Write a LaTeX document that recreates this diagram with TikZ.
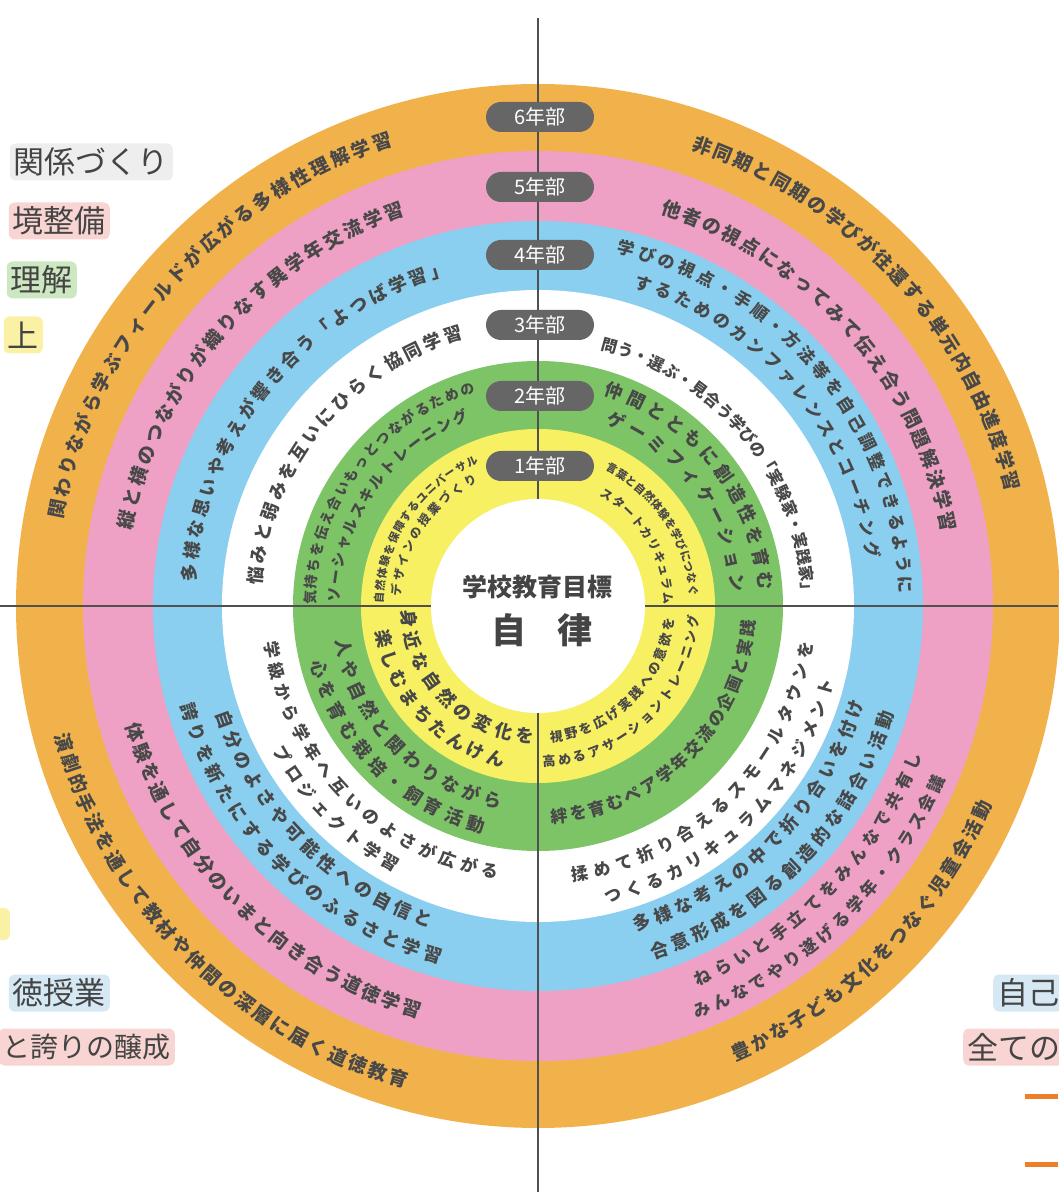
\documentclass[tikz,border=0pt]{standalone}
\usepackage{fontspec}
\newfontfamily\cjk{Noto Sans CJK JP}
\usetikzlibrary{decorations.text}

\definecolor{ringorange}{RGB}{241,178,75}
\definecolor{ringpink}{RGB}{238,161,197}
\definecolor{ringblue}{RGB}{138,206,240}
\definecolor{ringgreen}{RGB}{125,196,103}
\definecolor{ringyellow}{RGB}{247,240,98}
\definecolor{pillgray}{RGB}{102,102,102}
\definecolor{axisgray}{RGB}{80,80,80}
\definecolor{textgray}{RGB}{72,72,72}
\definecolor{labelgray}{RGB}{68,68,68}
\definecolor{boxgray}{RGB}{238,238,238}
\definecolor{boxpink}{RGB}{248,213,211}
\definecolor{boxgreen}{RGB}{205,232,192}
\definecolor{boxyellow}{RGB}{250,241,165}
\definecolor{boxblue}{RGB}{213,232,244}
\definecolor{barorange}{RGB}{236,128,40}

\tikzset{
  pill/.style={fill=pillgray, text=white, rounded corners=15pt, minimum width=108pt,
    minimum height=30pt, inner sep=0pt, font=\cjk\fontsize{20}{20}\selectfont},
  sidelabel/.style={text=labelgray, rounded corners=6pt, inner xsep=4pt, minimum height=37pt,
    font=\cjk\fontsize{31}{31}\selectfont},
  axis/.style={draw=axisgray, line width=1.6pt}
}

% text set along a ring: radius, start angle, end angle, size, text
\newcommand\ringtext[5]{%
  \pgfmathsetmacro\rtraise{-0.37*#4}%
  \path[decorate, decoration={text along path, text align=fit to path,
      raise=\rtraise pt, text color=textgray,
      text={|\cjk\bfseries\fontsize{#4}{#4}\selectfont|#5}}]
    (#2:#1) arc[start angle=#2, end angle=#3, radius=#1];}

\begin{document}
\begin{tikzpicture}[x=1pt, y=1pt]
	\useasboundingbox (-538,-590) rectangle (520,606);

	% rings
	\fill[ringorange] (0,0) circle[radius=522];
	\fill[ringpink] (0,0) circle[radius=455];
	\fill[ringblue] (0,0) circle[radius=385];
	\fill[white] (0,0) circle[radius=316];
	\fill[ringgreen] (0,0) circle[radius=245];
	\fill[ringyellow] (0,0) circle[radius=177];

	% axes
	\coordinate (top) at (0,588);
	\coordinate (bottom) at (0,-586);
	\coordinate (left) at (-538,0);
	\coordinate (right) at (520,0);
	\draw[axis] (top) -- (bottom);
	\draw[axis] (left) -- (right);
	\fill[white] (0,0) circle[radius=107];

	% grade labels
	\node (g6)[pill] at (2,489) {6年部};
	\node (g5)[pill] at (2,419) {5年部};
	\node (g4)[pill] at (2,351) {4年部};
	\node (g3)[pill] at (2,281) {3年部};
	\node (g2)[pill] at (2,210) {2年部};
	\node (g1)[pill] at (2,140) {1年部};

	% centre
	\node (goal)[font=\cjk\bfseries\fontsize{25}{25}\selectfont, text=labelgray] at (0,19) {学校教育目標};
	\node (jiritsu)[font=\cjk\bfseries\fontsize{35}{35}\selectfont, text=labelgray] at (4,-24) {自\hspace{0.9em}律};

	% 6th grade
	\ringtext{490}{169.7}{107.5}{19}{関わりながら学ぶフィールドが広がる多様性理解学習}
	\ringtext{489}{71.4}{13.7}{19}{非同期と同期の学びが往還する単元内自由進度学習}
	\ringtext{493}{195.0}{254.6}{19}{演劇的手法を通して教材や仲間の深層に届く道徳教育}
	\ringtext{489}{293.4}{336.4}{19}{豊かな子ども文化をつなぐ児童会活動}

	% 5th grade
	\ringtext{420}{169.4}{108.8}{19}{縦と横のつながりが織りなす異学年交流学習}
	\ringtext{418}{72.7}{10.4}{19}{他者の視点になってみて伝え合う問題解決学習}
	\ringtext{422}{196.2}{253.8}{19}{体験を通して自分のいまと向き合う道徳学習}
	\ringtext{406}{292.8}{338.7}{17}{ねらいと手立てをみんなで共有し}
	\ringtext{436}{291.0}{337.0}{17}{みんなでやり遂げる学年・クラス会議}

	% 4th grade
	\ringtext{350}{176.0}{105.0}{18}{多様な思いや考えが響き合う「よつば学習」}
	\ringtext{368}{77.4}{2.0}{17}{学びの視点・手順・方法等を自己調整できるように}
	\ringtext{339}{73.3}{8.2}{17}{するためのカンファレンスとコーチング}
	\ringtext{333}{198.4}{251.4}{18}{自分のよさや可能性への自信と}
	\ringtext{364}{195.5}{254.6}{18}{誇りを新たにする学びのふるさと学習}
	\ringtext{333}{286.7}{343.6}{18}{多様な考えの中で折り合いを付け}
	\ringtext{365}{288.0}{343.2}{18}{合意形成を図る創造的な話合い活動}

	% 3rd grade
	\ringtext{284}{175.7}{105.5}{18}{悩みと弱みを互いにひらく協同学習}
	\ringtext{270}{76.3}{1.7}{16}{問う・選ぶ・見合う学びの「実験家・実践家」}
	\ringtext{269}{187.5}{261.6}{17}{学級から学年へ互いのよさが広がる}
	\ringtext{296}{208.6}{241.7}{17}{プロジェクト学習}
	\ringtext{271}{277.2}{352.5}{17}{揉めて折り合えるスモールタウンを}
	\ringtext{299}{282.9}{345.7}{17}{つくるカリキュラムマネジメント}

	% 2nd grade
	\ringtext{228}{179.7}{106.4}{14}{気持ちを伝え合いもっとつながるための}
	\ringtext{204}{179.0}{110.2}{15}{ソーシャルスキルトレーニング}
	\ringtext{228}{72.6}{4.0}{18}{仲間とともに創造性を育む}
	\ringtext{201}{69.7}{4.1}{18}{ゲーミフィケーション}
	\ringtext{199}{189.6}{259.3}{18}{人や自然と関わりながら}
	\ringtext{227}{193.8}{256.3}{18}{心を育む栽培・飼育活動}
	\ringtext{211}{273.5}{356.1}{17}{絆を育むペア学年交流の企画と実践}

	% 1st grade
	\ringtext{159}{179.0}{112.6}{11}{自然体験を保障するユニバーサル}
	\ringtext{142}{176.0}{116.0}{12}{デザインの授業づくり}
	\ringtext{156}{63.7}{3.8}{11}{言葉と自然体験を学びにつなぐ}
	\ringtext{131}{60.7}{1.0}{12}{スタートカリキュラム}
	\ringtext{130}{181.6}{268.4}{18}{身近な自然の変化を}
	\ringtext{158}{188.9}{257.7}{18}{楽しむまちたんけん}
	\ringtext{132}{275.2}{354.7}{13}{視野を広げ実践への意欲を}
	\ringtext{156}{271.7}{356.7}{13}{高めるアサーショントレーニング}

	% side labels
	\node (kankei)[sidelabel, fill=boxgray, anchor=east] at (-365,444) {関係づくり};
	\node (kankyo)[sidelabel, fill=boxpink, anchor=east] at (-428,385) {境整備};
	\node (rikai)[sidelabel, fill=boxgreen, anchor=east] at (-461,326) {理解};
	\node (kojo)[sidelabel, fill=boxyellow, anchor=east] at (-495,271) {上};
	\fill[boxyellow, rounded corners=6pt] (-560,-302) rectangle (-528,-334);
	\node (dotoku)[sidelabel, fill=boxblue, anchor=east] at (-428,-387) {徳授業};
	\node (hokori)[sidelabel, fill=boxpink, anchor=east, font=\cjk\fontsize{28}{28}\selectfont] at (-363,-441) {と誇りの醸成};
	\node (jiko)[sidelabel, fill=boxblue, anchor=west] at (455,-387) {自己};
	\node (subete)[sidelabel, fill=boxpink, anchor=west] at (425,-441) {全ての};
	\draw[barorange, line width=5pt] (487,-490) -- (520,-490);
	\draw[barorange, line width=5pt] (487,-558) -- (520,-558);
\end{tikzpicture}
\end{document}
